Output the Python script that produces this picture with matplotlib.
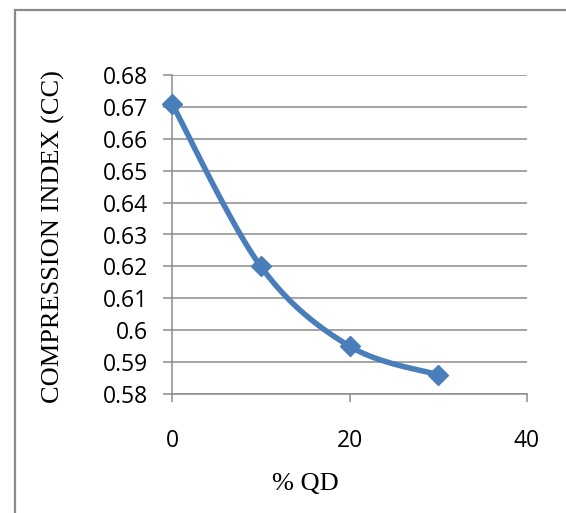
import numpy as np
import matplotlib
matplotlib.use("Agg")
import matplotlib.pyplot as plt
from matplotlib.patches import Rectangle

# Data
qd = [0, 10, 20, 30]
cc = [0.671, 0.620, 0.595, 0.586]
x_ticks = [0, 20, 40]
y_ticks = [0.58, 0.59, 0.60, 0.61, 0.62, 0.63, 0.64, 0.65, 0.66, 0.67, 0.68]
y_tick_labels = ["0.58", "0.59", "0.6", "0.61", "0.62", "0.63", "0.64", "0.65", "0.66", "0.67", "0.68"]
x_label = "% QD"
y_label = "COMPRESSION INDEX (CC)"

W, H = 566, 513
fig = plt.figure(figsize=(W / 100, H / 100), dpi=100)
ax = fig.add_axes([172 / W, 1 - 394 / H, (527 - 172) / W, (394 - 75) / H])

blue = "#4A7EBB"
grid_c = "#8C8C8C"

# Excel-like smooth (Catmull-Rom Bezier) line
def smooth(xs, ys, n=40):
    xs = np.asarray(xs, float); ys = np.asarray(ys, float)
    xn = (xs - 0) / 40.0
    yn = (ys - 0.58) / 0.10 * (319 / 355)
    P = np.column_stack([xn, yn])
    out = []
    for i in range(len(P) - 1):
        p0 = P[i - 1] if i > 0 else P[i]
        p1 = P[i]; p2 = P[i + 1]
        p3 = P[i + 2] if i + 2 < len(P) else P[i + 1]
        c1 = p1 + (p2 - p0) / 6.0
        c2 = p2 - (p3 - p1) / 6.0
        t = np.linspace(0, 1, n)[:, None]
        seg = (1 - t) ** 3 * p1 + 3 * (1 - t) ** 2 * t * c1 + 3 * (1 - t) * t ** 2 * c2 + t ** 3 * p2
        out.append(seg if i == 0 else seg[1:])
    S = np.vstack(out)
    return S[:, 0] * 40.0, S[:, 1] / (319 / 355) * 0.10 + 0.58

sx, sy = smooth(qd, cc)
ax.plot(sx, sy, color=blue, lw=4, solid_capstyle="round", zorder=3, clip_on=False)
ax.plot(qd, cc, linestyle="none", marker="D", ms=10, color=blue, mec=blue, zorder=4, clip_on=False)

ax.set_xlim(0, 40)
ax.set_ylim(0.58, 0.68)
ax.set_xticks(x_ticks)
ax.set_yticks(y_ticks)
ax.set_yticklabels(y_tick_labels)
ax.yaxis.grid(True, color=grid_c, lw=1.1)
ax.set_axisbelow(True)
for s in ["top", "right"]:
    ax.spines[s].set_visible(False)
for s in ["left", "bottom"]:
    ax.spines[s].set_color(grid_c)
    ax.spines[s].set_linewidth(1.1)

ax.tick_params(axis="y", direction="out", length=6.5, width=1.1, color=grid_c, pad=11)
ax.tick_params(axis="x", direction="out", length=6, width=1.1, color=grid_c, pad=19)
for lab in ax.get_xticklabels() + ax.get_yticklabels():
    lab.set_fontfamily("Open Sans")
    lab.set_fontsize(16.5)
    lab.set_color("black")

fig.text(53 / W, 1 - 237 / H, y_label, rotation=90, ha="center", va="center",
         family="Liberation Serif", fontsize=19)
fig.text(305 / W, 1 - 484 / H, x_label, ha="center", va="center",
         family="Liberation Serif", fontsize=19)

# outer chart border (extends beyond image on right/bottom)
fig.add_artist(Rectangle((15 / W, -0.1), 1.2, 1 - 10 / H + 0.1, transform=fig.transFigure,
                         fill=False, ec="#8A8A8A", lw=1.6))

fig.savefig("out.png", dpi=100)
